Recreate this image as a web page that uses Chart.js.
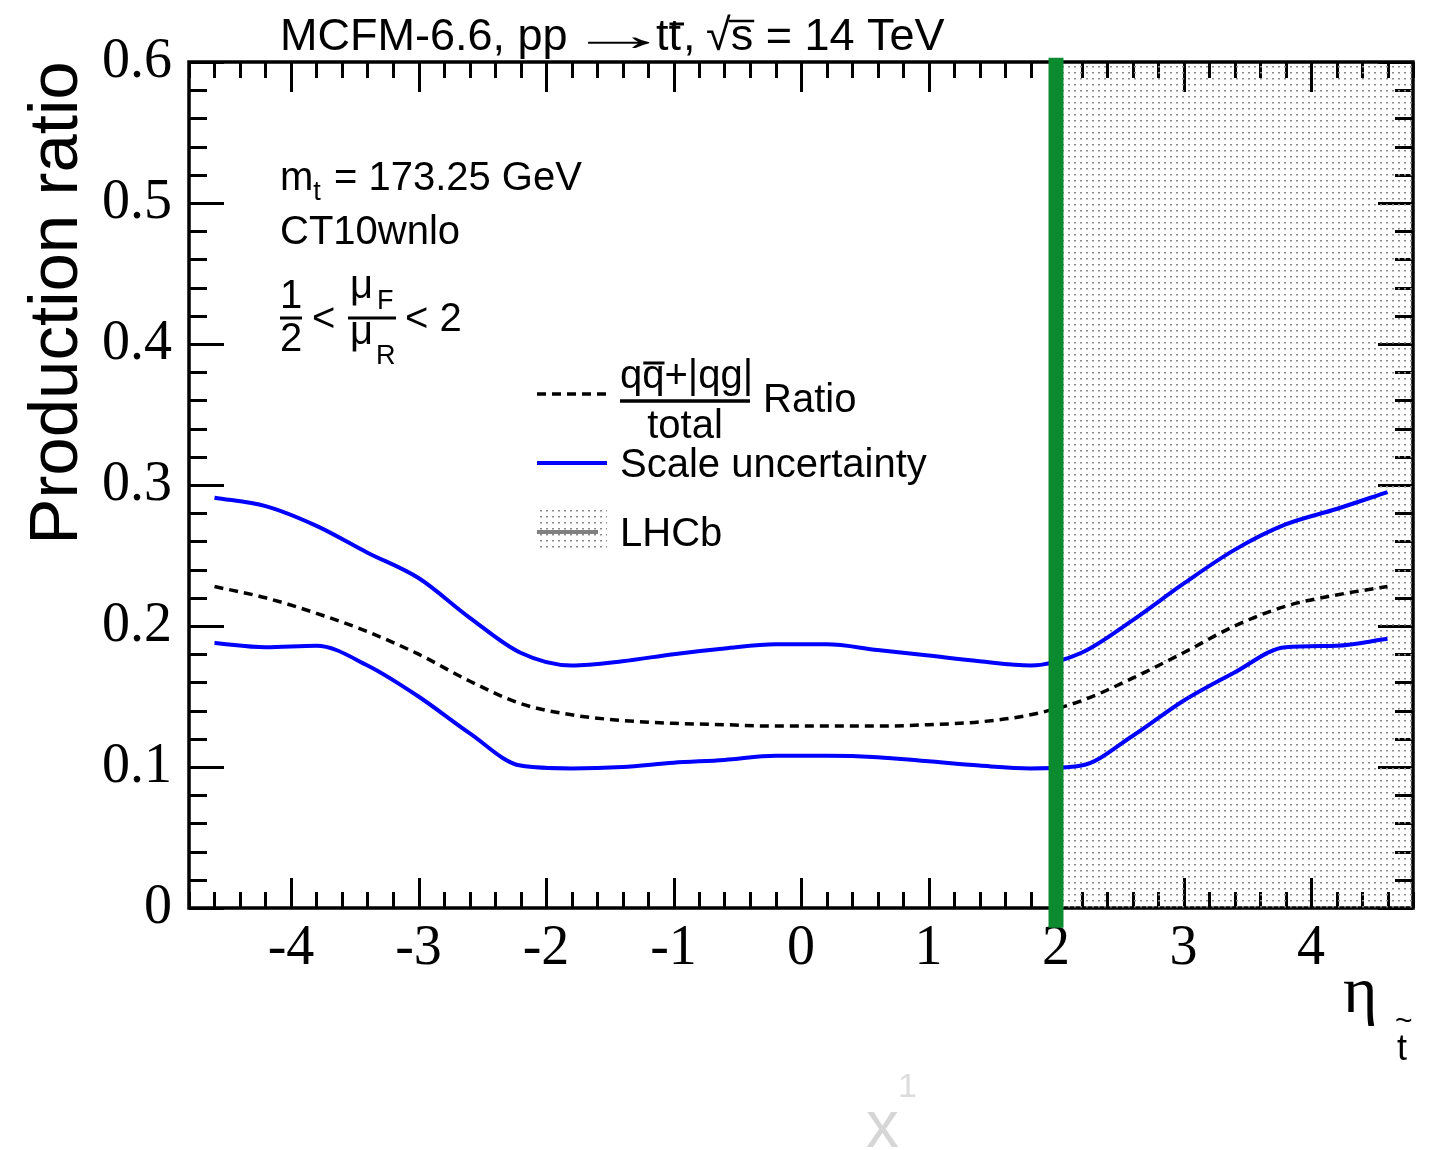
<!DOCTYPE html>
<html>
<head>
<meta charset="utf-8">
<script src="https://cdn.jsdelivr.net/npm/chart.js@4.4.1/dist/chart.umd.min.js"></script>
<style>
    html, body { margin: 0; padding: 0; background: #ffffff; }
    #wrap { width: 1435px; height: 1150px; }
</style>
</head>
<body>
<div id="wrap"><canvas id="ratioGraph" width="1435" height="1150"></canvas></div>
<script>
// pseudo-rapidity of the top quark (bin centres)
const etaPoints = [-4.6, -4.2, -3.8, -3.4, -3.0, -2.6, -2.2, -1.8, -1.4, -1.0, -0.6, -0.2,
                    0.2, 0.6, 1.0, 1.4, 1.8, 2.2, 2.6, 3.0, 3.4, 3.8, 4.2, 4.6];

// (qqbar + |qg|) / total
const ratioCentral = [0.228, 0.220, 0.209, 0.196, 0.180, 0.161, 0.145, 0.137, 0.133, 0.131, 0.130, 0.129,
                      0.129, 0.129, 0.130, 0.132, 0.137, 0.147, 0.163, 0.181, 0.200, 0.214, 0.222, 0.228];

// scale variation band, upper and lower edge
const scaleUpper = [0.291, 0.285, 0.271, 0.252, 0.234, 0.206, 0.181, 0.172, 0.175, 0.180, 0.184, 0.187,
                    0.187, 0.183, 0.179, 0.175, 0.172, 0.181, 0.204, 0.230, 0.254, 0.272, 0.283, 0.295];
const scaleLower = [0.188, 0.185, 0.186, 0.172, 0.150, 0.124, 0.101, 0.099, 0.100, 0.103, 0.105, 0.108,
                    0.108, 0.107, 0.104, 0.101, 0.099, 0.101, 0.122, 0.147, 0.167, 0.185, 0.186, 0.191];

// LHCb acceptance in eta, and the marker line at its lower edge
const lhcbEta = [2, 4.8];
const lhcbTop = [0.6, 0.6];
const edgeEta = [2, 2];
const edgeRatio = [-0.014, 0.603];

const xRange = [-4.8, 4.8];
const yRange = [0, 0.6];
const xTickValues = [-4, -3, -2, -1, 0, 1, 2, 3, 4];
const yTickValues = [0, 0.1, 0.2, 0.3, 0.4, 0.5, 0.6];

const SANS = '"Liberation Sans", Arial, sans-serif';
const SERIF = '"Liberation Serif", "Times New Roman", serif';

function toPoints(xs, ys)
{
    return xs.map((x, i) => ({ x: x, y: ys[i] }));
}

function makeDotPattern(ctx)
{
    const tile = document.createElement('canvas');
    tile.width = 6;
    tile.height = 6;
    const g = tile.getContext('2d');
    g.fillStyle = '#8a8a8a';
    g.fillRect(0, 0, 2, 1.5);
    return ctx.createPattern(tile, 'repeat');
}

function txt(ctx, str, x, y, size, opts)
{
    opts = opts || {};
    ctx.font = (opts.style || '') + ' ' + size + 'px ' + (opts.family || SANS);
    ctx.fillStyle = opts.color || '#000';
    ctx.textAlign = opts.align || 'left';
    ctx.textBaseline = 'alphabetic';
    ctx.fillText(str, x, y);
    return ctx.measureText(str).width;
}

function hline(ctx, x1, x2, y, w, color, dash)
{
    ctx.save();
    ctx.beginPath();
    ctx.strokeStyle = color || '#000';
    ctx.lineWidth = w;
    ctx.setLineDash(dash || []);
    ctx.moveTo(x1, y);
    ctx.lineTo(x2, y);
    ctx.stroke();
    ctx.restore();
}

// ROOT style frame: box plus inward ticks on all four sides
const framePlugin = {
    id: 'rootFrame',
    beforeDatasetsDraw(chart) {
        const ctx = chart.ctx;
        const a = chart.chartArea;
        const xs = chart.scales.x;
        const ys = chart.scales.y;
        ctx.save();
        ctx.strokeStyle = '#000';
        ctx.lineWidth = 3;
        ctx.beginPath();
        // y ticks every 0.02, major every 0.1
        for (let k = 0; k <= 30; k++) {
            const v = k * 0.02;
            const py = Math.round(ys.getPixelForValue(v)) + 0.5;
            const len = (k % 5 === 0) ? 35 : 18;
            ctx.moveTo(a.left, py); ctx.lineTo(a.left + len, py);
            ctx.moveTo(a.right, py); ctx.lineTo(a.right - len, py);
        }
        // x ticks every 0.2, major every 1
        for (let k = -24; k <= 24; k++) {
            const v = k * 0.2;
            const px = Math.round(xs.getPixelForValue(v)) + 0.5;
            const len = (k % 5 === 0) ? 30 : 16;
            ctx.moveTo(px, a.bottom); ctx.lineTo(px, a.bottom - len);
            ctx.moveTo(px, a.top); ctx.lineTo(px, a.top + len);
        }
        ctx.stroke();
        ctx.lineWidth = 3.5;
        ctx.strokeRect(a.left, a.top, a.right - a.left, a.bottom - a.top);
        ctx.restore();
    },
    afterDraw(chart) {
        const ctx = chart.ctx;
        ctx.save();

        // title
        let x = 280;
        txt(ctx, 'MCFM-6.6, pp', x, 50, 45);
        // stretch the arrow glyph so it spans ~62px like the ROOT symbol
        ctx.font = '45px ' + SANS;
        const am = ctx.measureText('\u2192');
        const inkW = (am.actualBoundingBoxRight + am.actualBoundingBoxLeft) || am.width;
        const sx = 62 / inkW;
        ctx.save();
        ctx.translate(588 + am.actualBoundingBoxLeft * sx, 0);
        ctx.scale(sx, 1);
        txt(ctx, '\u2192', 0, 50, 45);
        ctx.restore();
        x = 656;
        x += txt(ctx, 't', x, 50, 45);
        const tw = txt(ctx, 't', x, 50, 45);
        hline(ctx, x + 1, x + tw + 3, 24, 3);
        x += tw + 2;
        txt(ctx, ',', x, 50, 45);
        x = 706;
        x += txt(ctx, '\u221A', x, 50, 45);
        const sw = txt(ctx, 's', x, 50, 45);
        hline(ctx, x - 2, x + sw + 1, 21, 2.5);
        x += sw;
        txt(ctx, ' = 14 TeV', x, 50, 45);

        // y axis title
        ctx.save();
        ctx.translate(77, 303);
        ctx.rotate(-Math.PI / 2);
        txt(ctx, 'Production ratio', 0, 0, 69, { align: 'center' });
        ctx.restore();

        // x axis title
        txt(ctx, '\u03B7', 1343, 1012, 66, { family: SERIF });
        txt(ctx, 't', 1397, 1060, 36);
        txt(ctx, '~', 1395, 1030, 30);

        // parameters
        x = 280;
        x += txt(ctx, 'm', x, 190, 40);
        x += txt(ctx, 't', x, 200, 27);
        txt(ctx, ' = 173.25 GeV', x + 2, 190, 40);
        txt(ctx, 'CT10wnlo', 280, 244, 40);

        txt(ctx, '1', 291, 308, 40, { align: 'center' });
        hline(ctx, 280, 302, 318, 3);
        txt(ctx, '2', 291, 351, 40, { align: 'center' });
        txt(ctx, '<', 312, 331, 40);
        txt(ctx, '\u03BC', 350, 298, 40);
        txt(ctx, 'F', 377, 309, 27);
        hline(ctx, 348, 396, 318, 3);
        txt(ctx, '\u03BC', 350, 344, 40);
        txt(ctx, 'R', 376, 364, 27);
        txt(ctx, '< 2', 405, 331, 40);

        // legend
        hline(ctx, 537, 607, 394, 3.5, '#000', [9, 6]);
        txt(ctx, 'q', 620, 388, 40);
        const qx = 620 + ctx.measureText('q').width;
        const qw = txt(ctx, 'q', qx, 388, 40);
        hline(ctx, qx + 1, qx + qw, 363, 3);
        txt(ctx, '+|qg|', qx + qw, 388, 40);
        hline(ctx, 620, 750, 401, 3.5);
        txt(ctx, 'total', 685, 438, 40, { align: 'center' });
        txt(ctx, 'Ratio', 763, 412, 40);

        hline(ctx, 537, 607, 463, 4, '#0000ff');
        txt(ctx, 'Scale uncertainty', 620, 477, 40);

        ctx.fillStyle = chart.$dots;
        ctx.fillRect(537, 508, 70, 43);
        hline(ctx, 537, 598, 532, 4, '#808080');
        txt(ctx, 'LHCb', 620, 546, 40);

        // faint leftover label below the plot
        txt(ctx, 'x', 866, 1147, 66, { color: '#d6d6d6' });
        txt(ctx, '1', 898, 1097, 34, { color: '#dcdcdc' });

        ctx.restore();
    }
};

const ctx = document.getElementById('ratioGraph').getContext('2d');
const dots = makeDotPattern(ctx);

const ratioChart = new Chart(ctx, {
    type: 'line',
    data: {
        datasets: [
            {
                label: 'LHCb edge',
                data: toPoints(edgeEta, edgeRatio),
                borderColor: '#0b8a30',
                borderWidth: 15,
                borderCapStyle: 'butt',
                pointRadius: 0,
                clip: false,
            },
            {
                label: 'ratio',
                data: toPoints(etaPoints, ratioCentral),
                borderColor: '#000000',
                borderWidth: 3.5,
                borderDash: [9, 6],
                cubicInterpolationMode: 'monotone',
                pointRadius: 0,
            },
            {
                label: 'scale up',
                data: toPoints(etaPoints, scaleUpper),
                borderColor: '#0000ff',
                borderWidth: 4,
                cubicInterpolationMode: 'monotone',
                pointRadius: 0,
            },
            {
                label: 'scale down',
                data: toPoints(etaPoints, scaleLower),
                borderColor: '#0000ff',
                borderWidth: 4,
                cubicInterpolationMode: 'monotone',
                pointRadius: 0,
            },
            {
                label: 'LHCb',
                data: toPoints(lhcbEta, lhcbTop),
                borderWidth: 0,
                borderColor: 'rgba(0,0,0,0)',
                backgroundColor: dots,
                fill: 'origin',
                pointRadius: 0,
            }
        ]
    },
    options: {
        responsive: false,
        animation: false,
        devicePixelRatio: 1,
        layout: { padding: { top: 62, right: 22, left: 0, bottom: 0 } },
        plugins: {
            legend: { display: false },
            tooltip: { enabled: false },
            title: { display: false }
        },
        scales: {
            x: {
                type: 'linear',
                min: xRange[0],
                max: xRange[1],
                grid: { display: false, drawTicks: false },
                border: { display: false },
                afterBuildTicks: s => { s.ticks = xTickValues.map(v => ({ value: v })); },
                afterFit: s => { s.height = 242; },
                ticks: {
                    autoSkip: false,
                    maxRotation: 0,
                    padding: 8,
                    color: '#000',
                    font: { family: SERIF, size: 56 },
                    callback: v => String(v)
                }
            },
            y: {
                type: 'linear',
                min: yRange[0],
                max: yRange[1],
                grid: { display: false, drawTicks: false },
                border: { display: false },
                afterBuildTicks: s => { s.ticks = yTickValues.map(v => ({ value: v })); },
                afterFit: s => { s.width = 189; },
                ticks: {
                    autoSkip: false,
                    padding: 17,
                    color: '#000',
                    font: { family: SERIF, size: 56 },
                    callback: v => (v === 0 ? '0' : v.toFixed(1))
                }
            }
        }
    },
    plugins: [framePlugin]
});
ratioChart.$dots = dots;
ratioChart.draw();
</script>
</body>
</html>
